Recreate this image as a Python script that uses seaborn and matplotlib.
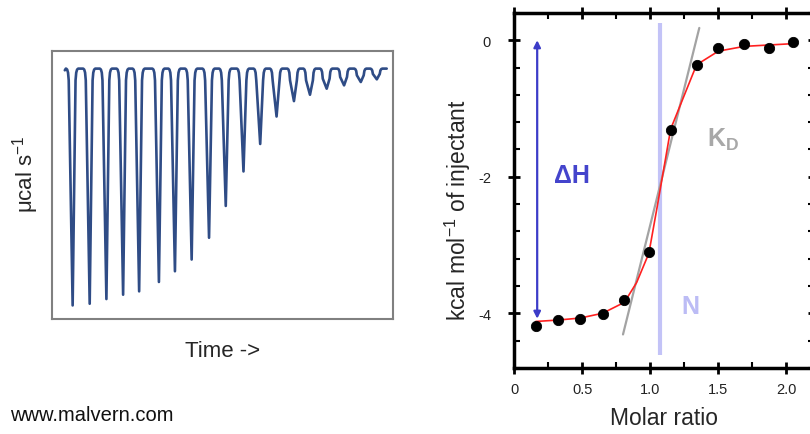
import matplotlib
matplotlib.use("Agg")
import matplotlib.pyplot as plt
import seaborn as sns
import pandas as pd
import numpy as np

sns.set_style("white")
plt.rcParams['font.family'] = ['Liberation Sans', 'DejaVu Sans']
plt.rcParams['mathtext.fontset'] = 'custom'
plt.rcParams['mathtext.rm'] = 'Liberation Sans'
plt.rcParams['mathtext.it'] = 'Liberation Sans:italic'
plt.rcParams['mathtext.bf'] = 'Liberation Sans:bold'

# raw thermogram: injection times (min) and peak heights (arb. units)
spike_times = [6.1, 11.1, 16.0, 20.9, 25.6, 31.4, 36.1, 41.0, 46.1, 51.0,
               56.2, 61.1, 65.9, 71.0, 75.7, 80.6, 85.7, 90.6, 95.3]
spike_depths = [-7.07, -7.02, -6.88, -6.75, -6.65, -6.37, -6.05, -5.70, -5.05, -4.10,
                -3.07, -2.25, -1.43, -0.97, -0.78, -0.60, -0.50, -0.40, -0.32]
trace_start = 3.8
trace_end = 98.2

# integrated heats
molar_ratio = [0.16, 0.32, 0.485, 0.65, 0.81, 0.99, 1.15, 1.34, 1.50, 1.69, 1.87, 2.05]
heat = [-4.18, -4.10, -4.09, -4.01, -3.81, -3.10, -1.31, -0.36, -0.12, -0.05, -0.12, -0.02]

# fitted curve
fit_x = [0.16, 0.32, 0.485, 0.65, 0.81, 0.90, 0.99, 1.05, 1.15, 1.34, 1.50, 1.69, 1.87, 2.05]
fit_y = [-4.12, -4.10, -4.07, -4.00, -3.84, -3.55, -3.12, -2.45, -1.30, -0.36, -0.16, -0.09, -0.07, -0.05]

# slope line (K_D) and stoichiometry (N)
slope_x = [0.80, 1.36]
slope_y = [-4.31, 0.18]
n_value = 1.075

# build the thermogram polyline from the spike list (rounded corners at the baseline)
tx, ty = [trace_start, trace_start + 0.3], [-0.05, 0.0]
for t, d in zip(spike_times, spike_depths):
    k = min(1.0, abs(d) / 0.7)
    tx += [t - 1.9, t - 1.6, t - 1.35, t - 1.15, t, t + 0.85, t + 1.05, t + 1.3, t + 1.6]
    ty += [0.0, -0.03 * k, -0.12 * k, -0.35 * k, d, -0.35 * k, -0.12 * k, -0.03 * k, 0.0]
tx.append(trace_end)
ty.append(0.0)
raw = pd.DataFrame({'time': tx, 'power': ty})

fig = plt.figure(figsize=(8.1, 4.35), dpi=100)

# left panel
ax1 = fig.add_axes([0.064, 0.264, 0.421, 0.616])
sns.lineplot(data=raw, x='time', y='power', ax=ax1, color='#2f4c86', lw=1.9, sort=False)
ax1.set_xlim(0, 100)
ax1.set_ylim(-7.48, 0.52)
ax1.set_xticks([])
ax1.set_yticks([])
ax1.set_xlabel('Time ->', fontsize=16, labelpad=15)
ax1.set_ylabel('μcal s$^{-1}$', fontsize=16)
ax1.yaxis.set_label_coords(-0.032, 0.545)
for s in ax1.spines.values():
    s.set_color('#808080')
    s.set_linewidth(1.5)

fig.text(0.012, 0.032, 'www.malvern.com', fontsize=14.5, color='#111111')

# right panel
ax2 = fig.add_axes([0.6346, 0.152, 0.370, 0.816])
ax2.plot([n_value, n_value], [0.25, -4.61], color='#c3c3f7', lw=3, solid_capstyle='butt', zorder=1)
sns.lineplot(x=slope_x, y=slope_y, ax=ax2, color='#a3a3a3', lw=1.6, zorder=2)
sns.lineplot(x=fit_x, y=fit_y, ax=ax2, color='#ff2020', lw=1.2, zorder=3)
sns.scatterplot(x=molar_ratio, y=heat, ax=ax2, color='black', s=55, edgecolor='black', zorder=4)

ax2.annotate('', xy=(0.17, 0.0), xytext=(0.17, -4.08),
             arrowprops=dict(arrowstyle='<|-|>', color='#3c3cc8', lw=1.6, mutation_scale=10,
                             shrinkA=0, shrinkB=0))
ax2.text(0.29, -1.98, 'ΔH', color='#4444cc', fontsize=18, fontweight='bold', va='center')
ax2.text(1.42, -1.45, r'$\mathbf{K_D}$', color='#a8a8a8', fontsize=18, va='center')
ax2.text(1.23, -3.9, 'N', color='#bcbcf5', fontsize=18, fontweight='bold', va='center')

ax2.set_xlim(0, 2.2)
ax2.set_ylim(-4.8, 0.4)
ax2.set_xticks([0, 0.5, 1.0, 1.5, 2.0])
ax2.set_xticklabels(['0', '0.5', '1.0', '1.5', '2.0'])
ax2.set_xticks([0.25, 0.75, 1.25, 1.75], minor=True)
ax2.set_yticks([0, -2, -4])
ax2.set_yticklabels(['0', '-2', '-4'])
ax2.set_yticks(np.arange(-4.8, 0.41, 0.4), minor=True)
ax2.tick_params(which='major', direction='inout', left=True, bottom=True, right=True, top=True,
                length=9, width=2, labelsize=10.5, labelcolor='#222222', color='black')
ax2.tick_params(which='minor', direction='in', left=True, bottom=True, right=True, top=True,
                length=4, width=1.5, color='black')
ax2.tick_params(axis='x', which='major', pad=6)
ax2.tick_params(axis='y', which='major', pad=12)
for s in ax2.spines.values():
    s.set_color('black')
    s.set_linewidth(2.5)
ax2.set_xlabel('Molar ratio', fontsize=16.5, labelpad=7)
ax2.set_ylabel('kcal mol$^{-1}$ of injectant', fontsize=16.5)
ax2.yaxis.set_label_coords(-0.137, 0.448)

fig.savefig('out.png', dpi=100)
